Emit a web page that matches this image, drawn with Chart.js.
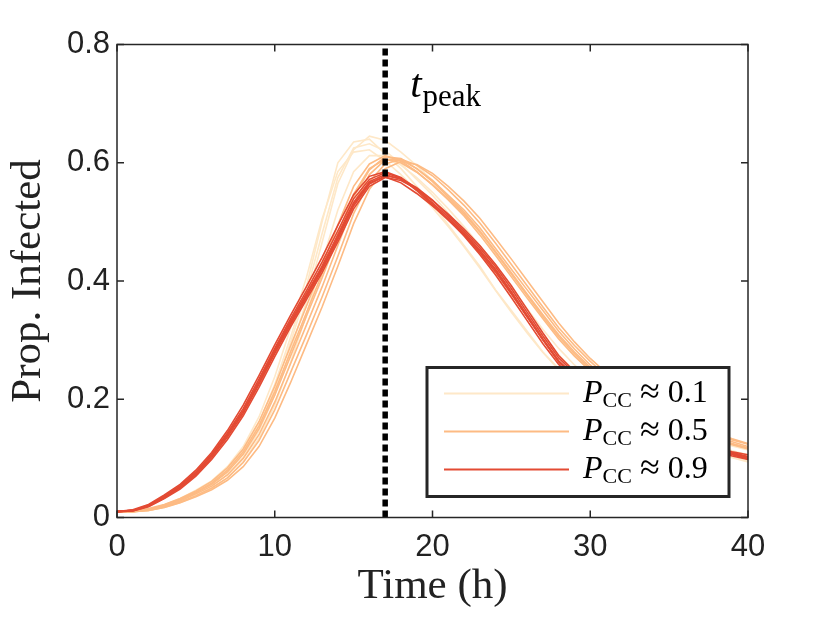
<!DOCTYPE html>
<html>
<head>
<meta charset="utf-8">
<script src="https://cdn.jsdelivr.net/npm/chart.js@4.4.0/dist/chart.umd.min.js"></script>
<style>
  html, body { margin: 0; padding: 0; background: #fff; }
  #wrap { width: 827px; height: 621px; position: relative; }
</style>
</head>
<body>
<div id="wrap"><canvas id="infChart"></canvas></div>
<script>
// time axis (h)
var hours = [0,1,2,3,4,5,6,7,8,9,10,11,12,13,14,15,16,17,18,19,20,
             21,22,23,24,25,26,27,28,29,30,31,32,33,34,35,36,37,38,39,40];
var xTicks = [0, 10, 20, 30, 40];
var xTickLabels = ['0', '10', '20', '30', '40'];
var yTicks = [0, 0.2, 0.4, 0.6, 0.8];
var yTickLabels = ['0', '0.2', '0.4', '0.6', '0.8'];
var tPeak = 17;
var pccLabels = ['0.1', '0.5', '0.9'];

// P_CC ~ 0.1 runs
var runsLow = [
  [0.010,0.010,0.013,0.020,0.030,0.043,0.058,0.080,0.112,0.160,0.225,0.305,0.390,0.500,0.600,0.635,0.640,0.615,0.590,0.560,
   0.530,0.495,0.460,0.425,0.385,0.350,0.315,0.280,0.252,0.228,0.207,0.190,0.174,0.160,0.147,0.136,0.126,0.117,0.109,0.102,0.095],
  [0.010,0.010,0.012,0.018,0.027,0.039,0.053,0.073,0.102,0.146,0.207,0.283,0.365,0.465,0.565,0.622,0.645,0.638,0.618,0.595,
   0.570,0.543,0.514,0.482,0.447,0.411,0.374,0.338,0.304,0.274,0.248,0.225,0.205,0.188,0.173,0.160,0.148,0.138,0.129,0.121,0.114],
  [0.010,0.011,0.014,0.021,0.032,0.046,0.062,0.086,0.120,0.170,0.238,0.320,0.405,0.505,0.585,0.618,0.622,0.603,0.580,0.553,
   0.524,0.492,0.458,0.422,0.384,0.347,0.312,0.279,0.250,0.226,0.205,0.187,0.171,0.157,0.145,0.134,0.124,0.115,0.108,0.101,0.094],
  [0.010,0.010,0.012,0.017,0.025,0.036,0.049,0.067,0.094,0.134,0.190,0.262,0.342,0.432,0.520,0.585,0.612,0.612,0.596,0.575,
   0.550,0.522,0.492,0.460,0.425,0.389,0.353,0.318,0.286,0.258,0.233,0.212,0.194,0.178,0.164,0.151,0.140,0.130,0.121,0.113,0.106],
  [0.010,0.010,0.013,0.019,0.029,0.041,0.056,0.077,0.108,0.154,0.217,0.296,0.380,0.480,0.575,0.625,0.632,0.620,0.598,0.572,
   0.545,0.515,0.483,0.449,0.413,0.377,0.341,0.306,0.275,0.248,0.225,0.205,0.188,0.172,0.158,0.146,0.135,0.125,0.117,0.109,0.102]
];

// P_CC ~ 0.5 runs
var runsMid = [
  [0.010,0.010,0.013,0.019,0.028,0.040,0.053,0.072,0.100,0.140,0.195,0.260,0.325,0.390,0.460,0.530,0.580,0.605,0.605,0.590,
   0.570,0.545,0.520,0.490,0.455,0.420,0.385,0.350,0.315,0.285,0.258,0.235,0.215,0.198,0.182,0.168,0.156,0.145,0.136,0.128,0.120],
  [0.010,0.011,0.015,0.022,0.032,0.045,0.061,0.084,0.116,0.162,0.222,0.290,0.357,0.425,0.495,0.560,0.598,0.612,0.603,0.585,
   0.562,0.537,0.510,0.478,0.443,0.407,0.371,0.336,0.302,0.273,0.248,0.226,0.207,0.190,0.175,0.162,0.150,0.140,0.131,0.123,0.116],
  [0.010,0.010,0.012,0.017,0.025,0.035,0.047,0.063,0.086,0.120,0.168,0.228,0.292,0.356,0.425,0.497,0.555,0.590,0.602,0.597,
   0.582,0.560,0.535,0.506,0.472,0.437,0.401,0.365,0.329,0.297,0.269,0.245,0.224,0.206,0.190,0.176,0.163,0.152,0.142,0.133,0.125],
  [0.010,0.010,0.014,0.020,0.030,0.042,0.056,0.077,0.107,0.150,0.207,0.273,0.340,0.405,0.474,0.542,0.588,0.610,0.607,0.590,
   0.568,0.542,0.516,0.485,0.450,0.414,0.378,0.343,0.309,0.280,0.254,0.231,0.211,0.194,0.178,0.165,0.153,0.142,0.133,0.125,0.118],
  [0.010,0.010,0.012,0.018,0.026,0.037,0.050,0.067,0.093,0.130,0.182,0.245,0.308,0.373,0.442,0.514,0.568,0.598,0.606,0.596,
   0.578,0.554,0.528,0.498,0.464,0.428,0.392,0.356,0.321,0.291,0.264,0.240,0.219,0.201,0.185,0.171,0.159,0.148,0.139,0.131,0.124],
  [0.010,0.011,0.014,0.021,0.031,0.043,0.058,0.080,0.111,0.155,0.213,0.280,0.346,0.412,0.480,0.547,0.590,0.606,0.600,0.584,
   0.563,0.539,0.513,0.483,0.448,0.412,0.376,0.340,0.306,0.277,0.251,0.228,0.209,0.192,0.177,0.163,0.151,0.141,0.132,0.124,0.117]
];

// P_CC ~ 0.9 runs
var runsHigh = [
  [0.010,0.012,0.020,0.035,0.052,0.075,0.105,0.140,0.180,0.230,0.283,0.332,0.378,0.425,0.478,0.533,0.568,0.580,0.572,0.555,
   0.532,0.508,0.482,0.452,0.420,0.382,0.342,0.302,0.265,0.240,0.218,0.198,0.181,0.166,0.153,0.141,0.131,0.122,0.114,0.107,0.100],
  [0.010,0.013,0.022,0.038,0.056,0.080,0.110,0.147,0.190,0.240,0.292,0.342,0.390,0.440,0.494,0.546,0.577,0.585,0.575,0.556,
   0.530,0.504,0.476,0.445,0.410,0.372,0.333,0.294,0.259,0.234,0.212,0.193,0.177,0.162,0.149,0.138,0.128,0.119,0.111,0.104,0.098],
  [0.010,0.011,0.018,0.032,0.048,0.070,0.098,0.132,0.172,0.220,0.272,0.322,0.368,0.414,0.466,0.522,0.560,0.575,0.570,0.556,
   0.536,0.513,0.488,0.460,0.428,0.392,0.352,0.312,0.274,0.247,0.224,0.204,0.186,0.171,0.157,0.145,0.134,0.125,0.117,0.110,0.103],
  [0.010,0.012,0.021,0.036,0.054,0.077,0.107,0.143,0.184,0.234,0.286,0.336,0.383,0.432,0.485,0.539,0.572,0.583,0.574,0.553,
   0.528,0.503,0.478,0.448,0.415,0.378,0.339,0.300,0.263,0.238,0.216,0.197,0.180,0.165,0.152,0.141,0.131,0.122,0.114,0.108,0.102],
  [0.010,0.011,0.019,0.033,0.050,0.072,0.101,0.136,0.176,0.225,0.277,0.326,0.372,0.419,0.471,0.527,0.564,0.578,0.573,0.558,
   0.537,0.511,0.485,0.456,0.424,0.387,0.347,0.307,0.270,0.244,0.222,0.202,0.184,0.169,0.156,0.144,0.134,0.125,0.117,0.111,0.106],
  [0.010,0.012,0.020,0.034,0.051,0.074,0.104,0.139,0.180,0.228,0.280,0.329,0.375,0.422,0.474,0.530,0.566,0.576,0.566,0.548,
   0.527,0.505,0.480,0.451,0.418,0.380,0.340,0.301,0.264,0.239,0.217,0.197,0.180,0.165,0.152,0.140,0.130,0.121,0.113,0.106,0.099]
];

var colors = ['#fee8c8', '#fdbb84', '#e34a33'];
var axisColor = '#262626';
var serif = '"Liberation Serif", "DejaVu Serif", serif';
var sans = '"Liberation Sans", Arial, sans-serif';

function toPoints(vals) {
  return hours.map(function (h, i) { return { x: h, y: vals[i] }; });
}

var datasets = [];
// dashed peak line, on top
datasets.push({
  data: [{ x: tPeak, y: yTicks[0] }, { x: tPeak, y: yTicks[yTicks.length - 1] }],
  borderColor: '#000', borderWidth: 5.5, borderDash: [7, 4],
  pointRadius: 0, order: 0
});
[runsLow, runsMid, runsHigh].forEach(function (group, g) {
  group.forEach(function (vals) {
    datasets.push({
      data: toPoints(vals),
      borderColor: colors[g], borderWidth: 1.6,
      pointRadius: 0, tension: 0, order: 3 - g
    });
  });
});

// box, inner ticks, t_peak label and legend
var framePlugin = {
  id: 'framePlugin',
  afterDraw: function (chart) {
    var ctx = chart.ctx, a = chart.chartArea;
    var xs = chart.scales.x, ys = chart.scales.y;
    ctx.save();
    ctx.strokeStyle = axisColor;
    ctx.lineWidth = 1.5;
    ctx.strokeRect(a.left, a.top, a.right - a.left, a.bottom - a.top);
    ctx.beginPath();
    xTicks.forEach(function (v) {
      var px = xs.getPixelForValue(v);
      ctx.moveTo(px, a.bottom); ctx.lineTo(px, a.bottom - 7);
      ctx.moveTo(px, a.top); ctx.lineTo(px, a.top + 7);
    });
    yTicks.forEach(function (v) {
      var py = ys.getPixelForValue(v);
      ctx.moveTo(a.left, py); ctx.lineTo(a.left + 7, py);
      ctx.moveTo(a.right, py); ctx.lineTo(a.right - 7, py);
    });
    ctx.stroke();

    // t_peak
    var tx = xs.getPixelForValue(tPeak) + 25;
    ctx.fillStyle = '#000';
    ctx.textBaseline = 'alphabetic';
    ctx.textAlign = 'left';
    ctx.font = 'italic 41px ' + serif;
    ctx.fillText('t', tx, 97);
    var tw = ctx.measureText('t').width;
    ctx.font = '31px ' + serif;
    ctx.fillText('peak', tx + tw + 1, 106);

    // legend box
    var bx = a.right - 321, by = a.bottom - 150, bw = 302, bh = 129;
    ctx.fillStyle = '#fff';
    ctx.fillRect(bx, by, bw, bh);
    ctx.lineWidth = 3;
    ctx.strokeStyle = axisColor;
    ctx.strokeRect(bx, by, bw, bh);
    pccLabels.forEach(function (lab, i) {
      var ly = by + 26 + i * 38;
      ctx.strokeStyle = colors[i];
      ctx.lineWidth = 2;
      ctx.beginPath();
      ctx.moveTo(bx + 17, ly); ctx.lineTo(bx + 142, ly);
      ctx.stroke();
      var px = bx + 156, base = ly + 8;
      ctx.fillStyle = '#000';
      ctx.font = 'italic 32px ' + serif;
      ctx.fillText('P', px, base);
      px += ctx.measureText('P').width;
      ctx.font = '22px ' + serif;
      ctx.fillText('CC', px, base + 5);
      px += ctx.measureText('CC').width + 8;
      ctx.font = '36px ' + serif;
      ctx.fillText('\u2248', px, base + 1);
      px += ctx.measureText('\u2248').width + 8;
      ctx.font = '32px ' + serif;
      ctx.fillText(lab, px, base);
    });
    ctx.restore();
  }
};

var ctxI = document.getElementById('infChart').getContext('2d');
var infChart = new Chart(ctxI, {
  type: 'line',
  data: { datasets: datasets },
  options: {
    responsive: true,
    maintainAspectRatio: false,
    animation: false,
    layout: { padding: { top: 44.5, right: 79, left: 0, bottom: 0 } },
    plugins: { legend: { display: false }, tooltip: { enabled: false } },
    scales: {
      x: {
        type: 'linear', min: 0, max: 40,
        afterFit: function (s) { s.height = 103.5; },
        afterBuildTicks: function (s) { s.ticks = xTicks.map(function (v) { return { value: v }; }); },
        grid: { display: false, drawTicks: false },
        border: { display: false },
        ticks: {
          color: '#222', padding: 11, maxRotation: 0,
          font: { family: sans, size: 31 },
          callback: function (v, i) { return xTickLabels[i]; }
        },
        title: {
          display: true, text: 'Time (h)', color: '#222',
          font: { family: serif, size: 43, lineHeight: 1 },
          padding: { top: 0, bottom: 13 }
        }
      },
      y: {
        type: 'linear', min: 0, max: 0.8,
        afterFit: function (s) { s.width = 117; },
        afterBuildTicks: function (s) { s.ticks = yTicks.map(function (v) { return { value: v }; }); },
        grid: { display: false, drawTicks: false },
        border: { display: false },
        ticks: {
          color: '#222', padding: 7,
          font: { family: sans, size: 31 },
          callback: function (v, i) { return yTickLabels[i]; }
        },
        title: {
          display: true, text: 'Prop. Infected', color: '#222',
          font: { family: serif, size: 43, lineHeight: 1 },
          padding: { top: 7, bottom: 0 }
        }
      }
    }
  },
  plugins: [framePlugin]
});
</script>
</body>
</html>
